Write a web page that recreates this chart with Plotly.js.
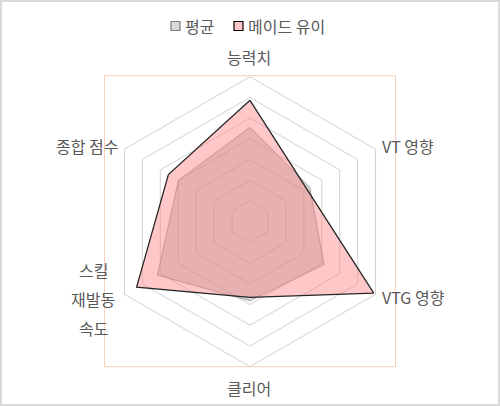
<!DOCTYPE html>
<html>
<head>
<meta charset="utf-8">
<script src="https://cdn.plot.ly/plotly-3.0.1.min.js"></script>
<style>html,body{margin:0;padding:0;background:#fff;}#chart{width:500px;height:406px;}</style>
</head>
<body>
<div id="chart"></div>
<script>
// ---- data ----
const categories = ["능력치", "VT 영향", "VTG 영향", "클리어", "스킬 재발동 속도", "종합 점수"];
const seriesNames = ["평균", "메이드 유이"];
const averageValues = [4.56, 3.33, 4.13, 3.82, 5.16, 3.99];
const yuiValues = [5.86, 3.16, 6.9, 3.65, 6.32, 4.55];

// ---- layout helpers ----
const W = 500, H = 406;
const px = x => x / W;
const py = y => (H - y) / H;
const textColor = "#595959";
const fontFam = "'Noto Sans CJK KR', 'Noto Sans', sans-serif";
const fs = 16;

function closed(arr) { return arr.concat([arr[0]]); }
const theta = closed(categories);

const traces = [
  {
    type: "scatterpolar",
    name: seriesNames[0],
    r: closed(averageValues),
    theta: theta,
    mode: "lines",
    fill: "toself",
    fillcolor: "rgba(165,165,165,0.45)",
    line: { color: "#a6a6a6", width: 1 },
    showlegend: false,
    hoverinfo: "skip"
  },
  {
    type: "scatterpolar",
    name: seriesNames[1],
    r: closed(yuiValues),
    theta: theta,
    mode: "lines",
    fill: "toself",
    fillcolor: "rgba(255,128,128,0.43)",
    line: { color: "#262626", width: 1.3 },
    showlegend: false,
    hoverinfo: "skip"
  }
];

// label anchor positions (pixels) for each category, in category order
const labelPos = [
  { x: 249, y: 57, xa: "center" },
  { x: 380, y: 146, xa: "left" },
  { x: 380, y: 297, xa: "left" },
  { x: 249, y: 388, xa: "center" },
  { x: 93, y: 299, xa: "center", lineGap: 29 },
  { x: 120, y: 146, xa: "right" }
];

const annotations = [];
categories.forEach((c, i) => {
  const p = labelPos[i];
  if (p.lineGap) {
    const parts = c.split(" ");
    const n = parts.length;
    parts.forEach((t, k) => {
      annotations.push({
        xref: "paper", yref: "paper", x: px(p.x), y: py(p.y + (k - (n - 1) / 2) * p.lineGap),
        xanchor: p.xa, yanchor: "middle", text: t, showarrow: false,
        font: { family: fontFam, size: fs, color: textColor }
      });
    });
  } else {
    annotations.push({
      xref: "paper", yref: "paper", x: px(p.x), y: py(p.y),
      xanchor: p.xa, yanchor: "middle", text: c, showarrow: false,
      font: { family: fontFam, size: fs, color: textColor }
    });
  }
});

// legend (custom)
const legendItems = [
  { sx: 171, tx: 183, fill: "#d9d9d9", border: "#7f7f7f" },
  { sx: 234, tx: 246, fill: "#ffc7c7", border: "#000000" }
];
const shapes = [
  // outer frame
  { type: "rect", xref: "paper", yref: "paper", x0: px(1), x1: px(499), y0: py(405), y1: py(1),
    line: { color: "#d9d9d9", width: 2 }, fillcolor: "rgba(0,0,0,0)" },
  // plot area dotted box
  { type: "rect", xref: "paper", yref: "paper", x0: px(104.5), x1: px(395.5), y0: py(366.7), y1: py(75.7),
    line: { color: "#f0a070", width: 1, dash: "1px,1px" }, fillcolor: "rgba(0,0,0,0)", layer: "below" }
];
legendItems.forEach((it, i) => {
  shapes.push({ type: "rect", xref: "paper", yref: "paper", x0: px(it.sx), x1: px(it.sx + 9), y0: py(30.5), y1: py(21.5),
    line: { color: it.border, width: 1.2 }, fillcolor: it.fill });
  annotations.push({ xref: "paper", yref: "paper", x: px(it.tx), y: py(26), xanchor: "left", yanchor: "middle",
    text: seriesNames[i], showarrow: false, font: { family: fontFam, size: fs, color: textColor } });
});

const cy = 221.7, R = 145, cx = 250;
const layout = {
  width: W, height: H,
  margin: { l: 0, r: 0, t: 0, b: 0 },
  paper_bgcolor: "#ffffff",
  showlegend: false,
  font: { family: fontFam, color: textColor, size: fs },
  polar: {
    domain: { x: [px(cx - R), px(cx + R)], y: [py(cy + R), py(cy - R)] },
    bgcolor: "rgba(0,0,0,0)",
    gridshape: "linear",
    radialaxis: {
      range: [0, 7], tick0: 0, dtick: 1, showticklabels: false, ticks: "",
      showline: false, gridcolor: "#d2d2d2", gridwidth: 1
    },
    angularaxis: {
      direction: "clockwise", rotation: 90, showgrid: false, showticklabels: false, ticks: "",
      showline: true, linecolor: "#d2d2d2", linewidth: 1
    }
  },
  shapes: shapes,
  annotations: annotations
};

Plotly.newPlot("chart", traces, layout, { displayModeBar: false, staticPlot: true });
</script>
</body>
</html>
